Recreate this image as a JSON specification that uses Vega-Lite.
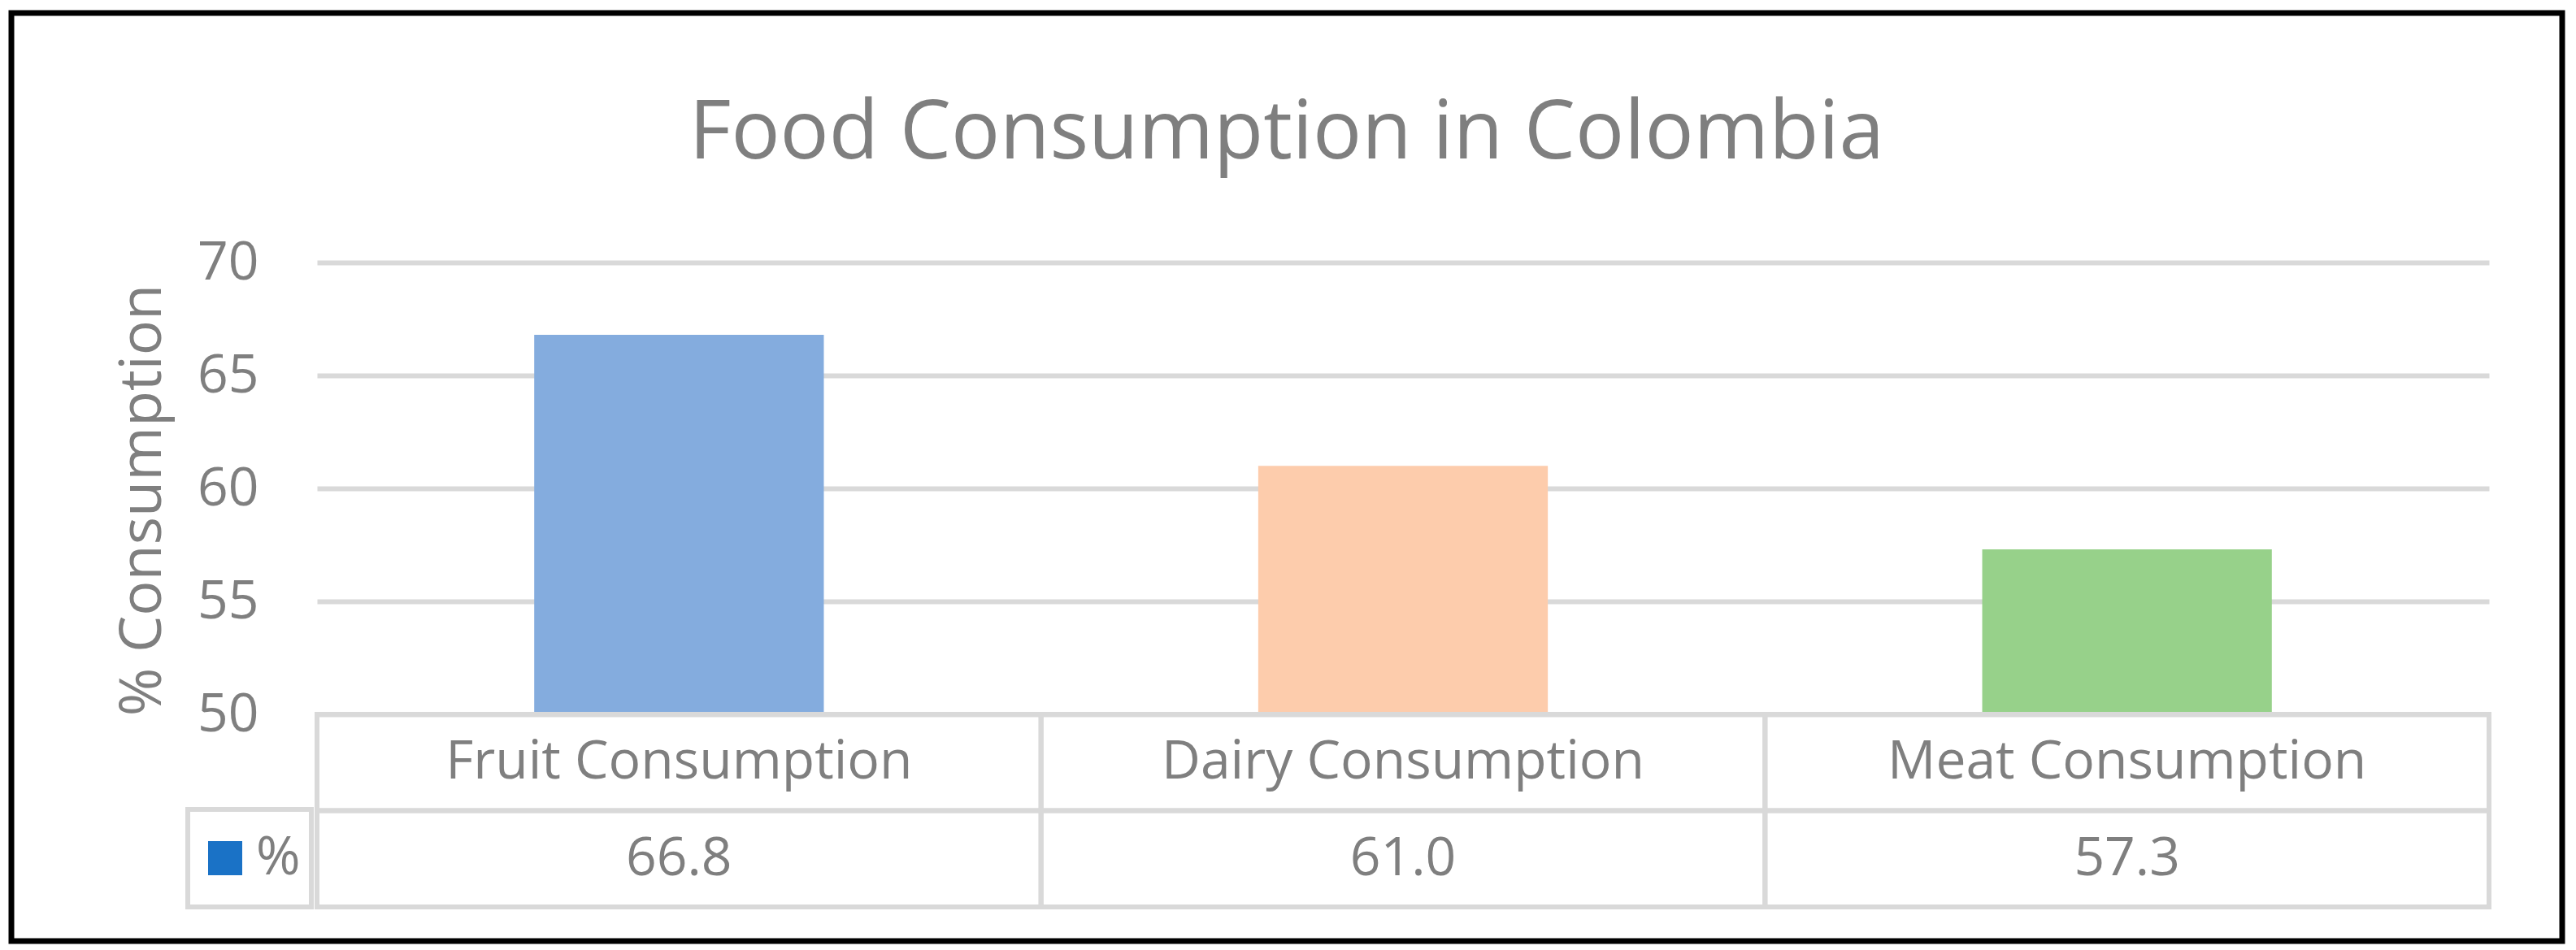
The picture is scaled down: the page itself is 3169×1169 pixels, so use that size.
{
  "$schema": "https://vega.github.io/schema/vega-lite/v6.json",
  "autosize": {"type": "none"},
  "padding": {"left": 14, "top": 16, "right": 17, "bottom": 11},
  "width": 3138,
  "height": 1142,
  "background": "white",
  "config": {
    "view": {"stroke": "#000000", "strokeWidth": 7},
    "font": "Open Sans",
    "legend": {"strokeWidth": 6}
  },
  "title": {
    "text": "Food Consumption in Colombia",
    "fontSize": 100,
    "font": "Open Sans",
    "fontWeight": "normal",
    "color": "#7F7F7F",
    "anchor": "middle",
    "frame": "group",
    "offset": -200
  },
  "data": {
    "values": [
      {"category": "Fruit Consumption", "value": 66.8},
      {"category": "Dairy Consumption", "value": 61.0},
      {"category": "Meat Consumption", "value": 57.3}
    ]
  },
  "layer": [
    {
      "mark": {"type": "bar", "width": {"band": 0.4}},
      "encoding": {
        "x": {
          "field": "category",
          "type": "nominal",
          "sort": null,
          "scale": {"domain": ["Fruit Consumption", "Dairy Consumption", "Meat Consumption"], "range": [376, 3048], "paddingInner": 0, "paddingOuter": 0},
          "axis": null
        },
        "y": {
          "field": "value",
          "type": "quantitative",
          "scale": {"domain": [50, 70], "range": [863, 307], "zero": false, "nice": false},
          "axis": {
            "orient": "left",
            "offset": -376,
            "values": [50, 55, 60, 65, 70],
            "domain": false,
            "ticks": false,
            "tickSize": 0,
            "labelPadding": 72,
            "labelFontSize": 66,
            "labelColor": "#7F7F7F",
            "labelFont": "Open Sans",
            "grid": true,
            "gridScale": "x",
            "gridColor": "#D9D9D9",
            "gridWidth": 6,
            "title": "% Consumption",
            "titleFontSize": 72,
            "titleFontWeight": "normal",
            "titleColor": "#7F7F7F",
            "titleFont": "Open Sans",
            "titlePadding": 30,
            "titleY": 599
          }
        },
        "y2": {"datum": 50},
        "color": {
          "field": "category",
          "type": "nominal",
          "scale": {"domain": ["Fruit Consumption", "Dairy Consumption", "Meat Consumption"], "range": ["#84ACDE", "#FDCCAC", "#97D18A"]},
          "legend": null
        }
      }
    },
    {
      "encoding": {
        "x": {"field": "category", "type": "nominal", "sort": null}
      },
      "layer": [
        {
          "mark": {"type": "rect", "fill": "transparent", "stroke": "#D9D9D9", "strokeWidth": 6},
          "encoding": {
            "y": {"datum": "cat", "type": "nominal", "scale": {"domain": ["cat", "val"], "range": [863, 1100], "paddingInner": 0, "paddingOuter": 0}, "axis": null}
          }
        },
        {
          "mark": {"type": "rect", "fill": "transparent", "stroke": "#D9D9D9", "strokeWidth": 6},
          "encoding": {
            "y": {"datum": "val", "type": "nominal"}
          }
        },
        {
          "mark": {"type": "text", "fontSize": 66, "color": "#7F7F7F", "font": "Open Sans", "baseline": "middle", "align": "center"},
          "encoding": {
            "y": {"datum": "cat", "type": "nominal"},
            "text": {"field": "category", "type": "nominal"}
          }
        },
        {
          "mark": {"type": "text", "fontSize": 66, "color": "#7F7F7F", "font": "Open Sans", "baseline": "middle", "align": "center"},
          "encoding": {
            "y": {"datum": "val", "type": "nominal"},
            "text": {"field": "value", "type": "quantitative", "format": ".1f"}
          }
        },
        {
          "mark": {"type": "square", "size": 0, "opacity": 1},
          "encoding": {
            "y": {"datum": "val", "type": "nominal"},
            "fill": {
              "datum": "%",
              "type": "nominal",
              "scale": {"domain": ["%"], "range": ["#1A72C6"]},
              "legend": {
                "orient": "none",
                "legendX": 217,
                "legendY": 980,
                "title": null,
                "symbolType": "square",
                "symbolSize": 1764,
                "symbolStrokeWidth": 0,
                "symbolOpacity": 1,
                "labelFontSize": 66,
                "labelFont": "Open Sans",
                "labelColor": "#7F7F7F",
                "labelOffset": 5,
                "padding": 13,
                "clipHeight": 94,
                "strokeColor": "#D9D9D9"
              }
            }
          }
        }
      ]
    }
  ],
  "resolve": {"scale": {"y": "independent"}}
}
